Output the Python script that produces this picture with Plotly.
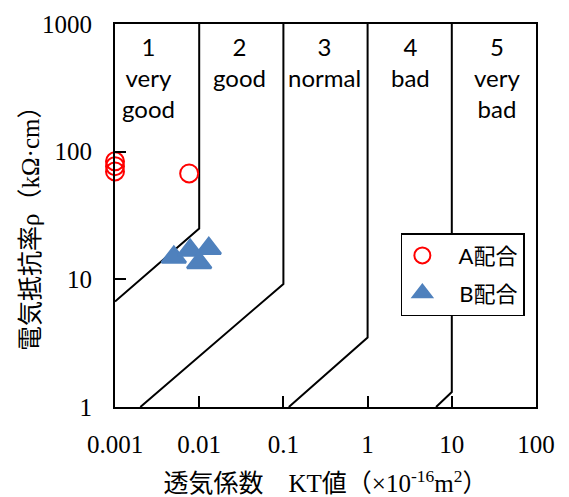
import numpy as np
import plotly.graph_objects as go

# ---- data ----
a_kt = [0.001, 0.001, 0.001, 0.0076]
a_rho = [84, 77, 70, 67.5]
b_kt = [0.0050, 0.0078, 0.0100, 0.0130]
b_rho = [14.9, 16.9, 13.5, 17.4]

# zone boundary lines (KT, rho)
bound1_kt = [0.01, 0.01, 0.001]
bound1_rho = [1000, 25, 6.7]
bound2_kt = [0.1, 0.1, 0.002]
bound2_rho = [1000, 9.2, 1]
bound3_kt = [1, 1, 0.116]
bound3_rho = [1000, 3.5, 1]
bound4_kt = [10, 10, 6.5]
bound4_rho = [1000, 1.31, 1]

zone_labels = ["1<br>very<br>good", "2<br>good", "3<br>normal", "4<br>bad", "5<br>very<br>bad"]
zone_label_pos = [0.0025, 0.0300, 0.31, 3.2, 34]

x_ticks = [0.001, 0.01, 0.1, 1, 10, 100]
x_ticktext = ["0.001", "0.01", "0.1", "1", "10", "100"]
y_ticks = [1, 10, 100, 1000]
y_ticktext = ["1", "10", "100", "1000"]

serif = "Liberation Serif, Times New Roman, Noto Sans CJK JP, serif"
sans_jp = "Lato, Noto Sans CJK JP, sans-serif"

fig = go.Figure()

for bx, by in [(bound1_kt, bound1_rho), (bound2_kt, bound2_rho),
               (bound3_kt, bound3_rho), (bound4_kt, bound4_rho)]:
    fig.add_trace(go.Scatter(x=bx, y=by, mode="lines",
                             line=dict(color="black", width=2),
                             showlegend=False, hoverinfo="skip"))

fig.add_trace(go.Scatter(
    x=a_kt, y=a_rho, mode="markers", name="\u00a0\u00a0\u00a0A配合", legendgroup="a",
    cliponaxis=False,
    marker=dict(symbol="circle-open", size=18, color="#FF0000", line=dict(width=2, color="#FF0000"))))
fig.add_trace(go.Scatter(
    x=b_kt, y=b_rho, mode="markers", name="\u00a0\u00a0\u00a0B配合", legendgroup="b",
    cliponaxis=False,
    marker=dict(symbol="triangle-up", size=21, color="#4F81BD",
                line=dict(width=2.5, color="#4F81BD"))))

for txt, xp in zip(zone_labels, zone_label_pos):
    fig.add_annotation(x=np.log10(xp), y=0.985, xref="x", yref="paper",
                       text=txt, showarrow=False, yanchor="top", xanchor="center",
                       font=dict(family="Lato, Calibri, sans-serif", size=24, color="black"))

# y-axis title as rotated annotation
fig.add_annotation(x=-0.202, y=0.483, xref="paper", yref="paper",
                   text="電気抵抗率ρ（kΩ·cm）", textangle=-90, showarrow=False,
                   xanchor="center", yanchor="middle",
                   font=dict(family=serif, size=25, color="black"))

fig.update_layout(
    width=561, height=489,
    margin=dict(l=107, r=33, t=16, b=90, autoexpand=False),
    plot_bgcolor="white", paper_bgcolor="white",
    legend=dict(x=0.679, y=0.454, xanchor="left", yanchor="top",
                bordercolor="black", borderwidth=1.5, bgcolor="white",
                font=dict(family=sans_jp, size=22, color="black"),
                traceorder="grouped", tracegroupgap=6),
)

fig.update_xaxes(type="log", range=[-3, 2], tickvals=x_ticks, ticktext=x_ticktext,
                 automargin=False,
                 showgrid=False, zeroline=False, showline=True, mirror=True,
                 linecolor="black", linewidth=2, ticks="inside", ticklen=11,
                 tickwidth=2, tickcolor="black", ticklabelstandoff=14,
                 tickfont=dict(family=serif, size=25, color="black"),
                 title=dict(text="透気係数\u3000KT値（×10<sup>-16</sup>m<sup>2</sup>）",
                            font=dict(family=serif, size=25, color="black"), standoff=18))
fig.update_yaxes(type="log", range=[0, 3], tickvals=y_ticks, ticktext=y_ticktext,
                 automargin=False,
                 showgrid=False, zeroline=False, showline=True, mirror=True,
                 linecolor="black", linewidth=2, ticks="inside", ticklen=11,
                 tickwidth=2, tickcolor="black", ticklabelstandoff=16,
                 tickfont=dict(family=serif, size=25, color="black"))

fig.write_html("out.html")
